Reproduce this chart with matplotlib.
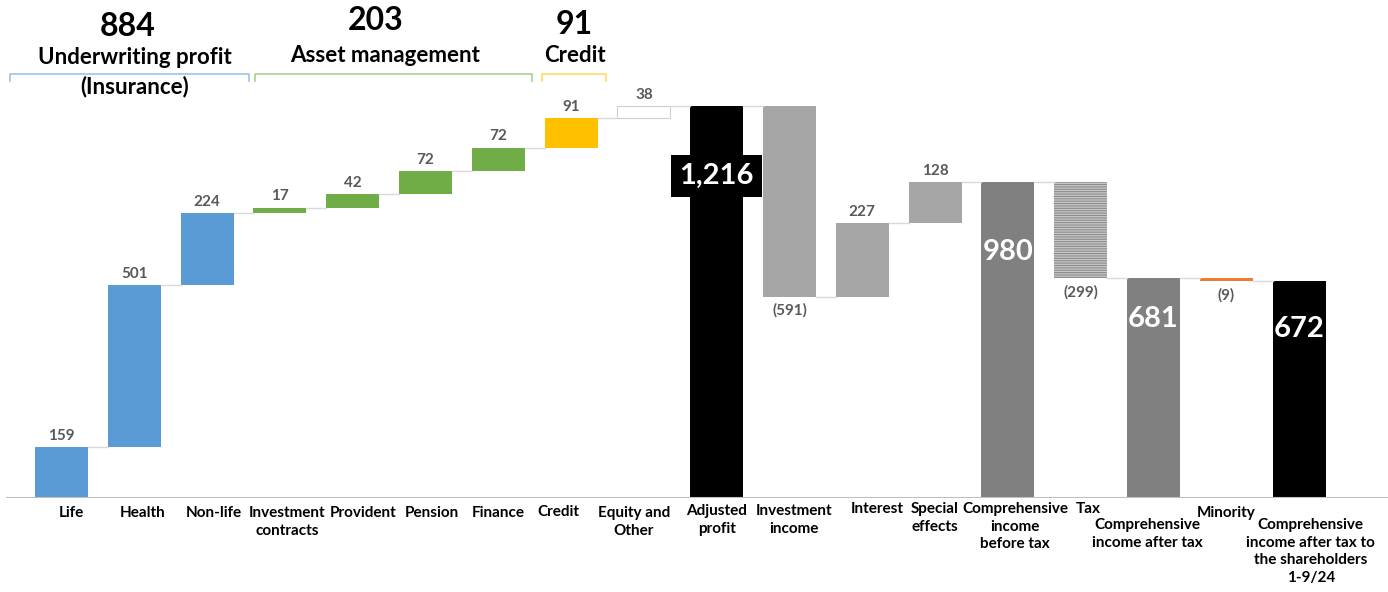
import matplotlib
matplotlib.use('Agg')
import matplotlib.pyplot as plt
from matplotlib import font_manager

categories = ['Life', 'Health', 'Non-life', 'Investment\ncontracts', 'Provident',
              'Pension', 'Finance', 'Credit', 'Equity and\nOther', 'Adjusted\nprofit',
              'Investment\nincome', 'Interest', 'Special\neffects',
              'Comprehensive\nincome\nbefore tax', 'Tax', 'Comprehensive\nincome after tax',
              'Minority', 'Comprehensive\nincome after tax to\nthe shareholders\n1-9/24']
values = [159, 501, 224, 17, 42, 72, 72, 91, 38, 1216, -591, 227, 128, 980, -299, 681, -9, 672]
is_total = [False] * 9 + [True] + [False] * 3 + [True, False, True, False, True]
value_labels = ['159', '501', '224', '17', '42', '72', '72', '91', '38', '1,216', '(591)',
                '227', '128', '980', '(299)', '681', '(9)', '672']

group_totals = ['884', '203', '91']
group_names = ['Underwriting profit', 'Asset management', 'Credit']

BLUE = '#5B9BD5'
GREEN = '#70AD47'
YELLOW = '#FFC000'
colors = [BLUE] * 3 + [GREEN] * 4 + [YELLOW, 'white', 'black', '#A6A6A6', '#A6A6A6',
                                      '#A6A6A6', '#808080', '#C8C8C8', '#808080',
                                      '#ED7D31', 'black']

names = {f.name for f in font_manager.fontManager.ttflist}
fam = 'Liberation Sans Narrow' if 'Liberation Sans Narrow' in names else 'Lato'
plt.rcParams['font.family'] = [fam, 'DejaVu Sans']
plt.rcParams['hatch.linewidth'] = 0.8
plt.rcParams['hatch.color'] = '#8C8C8C'

W, H = 1388, 592
SLOT = 72.8
PX_PER_UNIT = 0.3224


def fx(px):
    return px / W


def fy(py):
    return 1 - py / H


fig = plt.figure(figsize=(W / 100, H / 100), dpi=100)
ax = fig.add_axes([fx(6), fy(498), (W - 6) / W, 498 / H])
left = -55.5 / SLOT
ax.set_xlim(left, left + (W - 6) / SLOT)
ax.set_ylim(0, 498 / PX_PER_UNIT)
ax.axis('off')
ax.axhline(0, color='#BFBFBF', lw=1.5)

# waterfall geometry
bottoms, heights, levels = [], [], []
running = 0
for v, tot in zip(values, is_total):
    if tot:
        bottoms.append(0)
        heights.append(v)
        running = v
    else:
        lo = min(running, running + v)
        bottoms.append(lo)
        heights.append(abs(v))
        running += v
    levels.append(running)

width = 0.73
for i, (b, h, c) in enumerate(zip(bottoms, heights, colors)):
    if categories[i] == 'Tax':
        ax.bar(i, h, bottom=b, width=width, color=c, hatch='-------', lw=0)
    elif c == 'white':
        ax.bar(i, h, bottom=b, width=width, color=c, edgecolor='#D0D0D0', lw=0.8)
    else:
        ax.bar(i, h, bottom=b, width=width, color=c, lw=0)

# connectors between bars
for i in range(len(values) - 1):
    ax.plot([i + width / 2, i + 1 - width / 2], [levels[i], levels[i]],
            color='#D9D9D9', lw=1)

# value labels
big = {'1,216': 70, '980': 70, '681': 41, '672': 48}
for i, lab in enumerate(value_labels):
    top = bottoms[i] + heights[i]
    if lab in big:
        kw = dict(color='white', fontsize=21, fontweight='bold', ha='center', va='center')
        if lab == '1,216':
            kw['bbox'] = dict(facecolor='black', edgecolor='none', pad=6)
        ax.annotate(lab, (i, top), xytext=(0, -big[lab] * 0.72),
                    textcoords='offset points', **kw)
    elif values[i] < 0:
        ax.annotate(lab, (i, bottoms[i]), xytext=(0, -10), textcoords='offset points',
                    ha='center', va='center', fontsize=11, fontweight='bold',
                    color='#595959')
    else:
        ax.annotate(lab, (i, top), xytext=(0, 8), textcoords='offset points',
                    ha='center', va='center', fontsize=11, fontweight='bold',
                    color='#595959')

# category labels under the axis
label_dx = [0.14, 0.12, 0.09, 0.1, 0.15, 0.09, 0.0, -0.17, -0.14, 0.0, 0.06, 0.2,
            0.0, 0.1, 0.1, -0.08, 0.0, 0.16]
label_top = [506, 506, 506, 506, 506, 506, 506, 505, 506, 504, 504, 502, 502, 502,
             502, 518, 506, 518]
for i, lab in enumerate(categories):
    x_px = 6 + (i - left) * SLOT + label_dx[i] * SLOT
    fig.text(fx(x_px), fy(label_top[i]), lab, ha='center', va='top', fontsize=11,
             fontweight='bold', linespacing=1.32, color='black')

# group headers with brackets
headers = [
    (128, 27, 135, 57, 10, 249, '#9DC3E6'),
    (376, 21, 385, 56, 255, 532, '#A9D18E'),
    (574, 24, 575, 55, 542, 606, '#FFD966'),
]
for (tx, ty, nx, ny, b0, b1, bc), tot, name in zip(headers, group_totals, group_names):
    fig.text(fx(tx), fy(ty), tot, ha='center', va='center', fontsize=23,
             fontweight='bold')
    fig.text(fx(nx), fy(ny), name, ha='center', va='center', fontsize=16,
             fontweight='bold')
    fig.add_artist(plt.Line2D([fx(b0), fx(b0), fx(b1), fx(b1)],
                              [fy(81), fy(74), fy(74), fy(81)], color=bc, lw=1.2))
fig.text(fx(135), fy(87), '(Insurance)', ha='center', va='center', fontsize=16,
         fontweight='bold')

fig.savefig('out.png', dpi=100, facecolor='white')
